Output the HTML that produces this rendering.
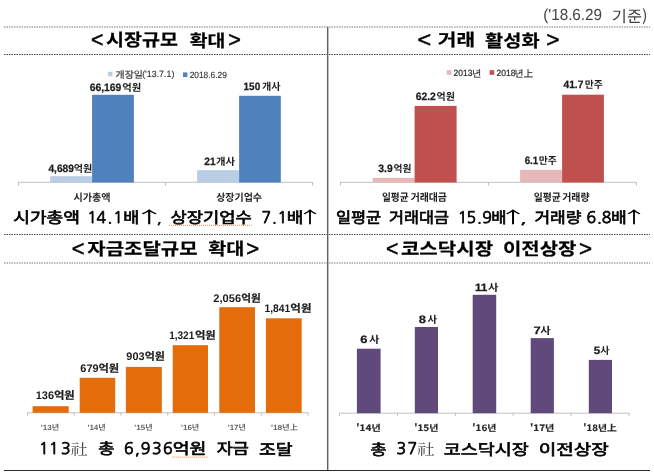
<!DOCTYPE html>
<html lang="ko"><head><meta charset="utf-8"><title>chart</title>
<style>
html,body{margin:0;padding:0;background:#fff;}
body{width:654px;height:476px;overflow:hidden;}
svg{display:block;font-family:"Liberation Sans", "Noto Sans CJK KR", "NanumGothic", sans-serif;}
text{white-space:pre;text-rendering:geometricPrecision;}
.n{font-family:"Noto Sans CJK KR", "NanumGothic", "Liberation Sans", sans-serif;}
.s{font-family:"Noto Serif CJK KR", "Noto Serif CJK SC", "NanumMyeongjo", "Liberation Serif", serif;}
.g{font-family:"NanumGothic", "Noto Sans CJK KR", "Liberation Sans", sans-serif;}

</style></head><body>
<svg width="654" height="476" viewBox="0 0 654 476">
<line x1="18" y1="182.3" x2="312.6" y2="182.3" stroke="#c0c0c0" stroke-width="1"/>
<line x1="18.5" y1="182" x2="18.5" y2="185.6" stroke="#c0c0c0" stroke-width="1"/>
<line x1="165.5" y1="182" x2="165.5" y2="185.6" stroke="#c0c0c0" stroke-width="1"/>
<line x1="312.5" y1="182" x2="312.5" y2="185.6" stroke="#c0c0c0" stroke-width="1"/>
<line x1="340" y1="182.3" x2="636" y2="182.3" stroke="#c0c0c0" stroke-width="1"/>
<line x1="340.5" y1="182" x2="340.5" y2="185.6" stroke="#c0c0c0" stroke-width="1"/>
<line x1="488.5" y1="182" x2="488.5" y2="185.6" stroke="#c0c0c0" stroke-width="1"/>
<line x1="636.5" y1="182" x2="636.5" y2="185.6" stroke="#c0c0c0" stroke-width="1"/>
<line x1="27.5" y1="412.8" x2="308" y2="412.8" stroke="#c0c0c0" stroke-width="1"/>
<line x1="27.5" y1="412.5" x2="27.5" y2="415.8" stroke="#c0c0c0" stroke-width="1"/>
<line x1="74.25" y1="412.5" x2="74.25" y2="415.8" stroke="#c0c0c0" stroke-width="1"/>
<line x1="121" y1="412.5" x2="121" y2="415.8" stroke="#c0c0c0" stroke-width="1"/>
<line x1="167.75" y1="412.5" x2="167.75" y2="415.8" stroke="#c0c0c0" stroke-width="1"/>
<line x1="214.5" y1="412.5" x2="214.5" y2="415.8" stroke="#c0c0c0" stroke-width="1"/>
<line x1="261.25" y1="412.5" x2="261.25" y2="415.8" stroke="#c0c0c0" stroke-width="1"/>
<line x1="308" y1="412.5" x2="308" y2="415.8" stroke="#c0c0c0" stroke-width="1"/>
<line x1="339.5" y1="413.2" x2="629" y2="413.2" stroke="#c0c0c0" stroke-width="1"/>
<line x1="339.5" y1="413" x2="339.5" y2="416.2" stroke="#c0c0c0" stroke-width="1"/>
<line x1="397.4" y1="413" x2="397.4" y2="416.2" stroke="#c0c0c0" stroke-width="1"/>
<line x1="455.3" y1="413" x2="455.3" y2="416.2" stroke="#c0c0c0" stroke-width="1"/>
<line x1="513.2" y1="413" x2="513.2" y2="416.2" stroke="#c0c0c0" stroke-width="1"/>
<line x1="571.1" y1="413" x2="571.1" y2="416.2" stroke="#c0c0c0" stroke-width="1"/>
<line x1="629" y1="413" x2="629" y2="416.2" stroke="#c0c0c0" stroke-width="1"/>
<line x1="4" y1="27" x2="650" y2="27" stroke="#777" stroke-width="1" stroke-dasharray="1.5 1"/>
<line x1="4" y1="54.5" x2="650" y2="54.5" stroke="#444" stroke-width="1" stroke-dasharray="1.5 1"/>
<line x1="4" y1="234.5" x2="650" y2="234.5" stroke="#444" stroke-width="1" stroke-dasharray="1.5 1"/>
<line x1="4" y1="263" x2="650" y2="263" stroke="#777" stroke-width="1" stroke-dasharray="1.5 1"/>
<line x1="327.7" y1="27" x2="327.7" y2="470" stroke="#606060" stroke-width="1.4"/>
<line x1="4" y1="470.5" x2="650" y2="470.5" stroke="#2a2a2a" stroke-width="1"/>
<rect x="108" y="71.8" width="4.4" height="4.6" fill="#b9cde5"/>
<rect x="183" y="72.4" width="4.4" height="4.6" fill="#4f81bd"/>
<rect x="50.2" y="176.2" width="41.9" height="6.3" fill="#b9cde5"/>
<rect x="92.1" y="94.8" width="41.8" height="87.7" fill="#4f81bd"/>
<rect x="197.1" y="170.2" width="42" height="12.3" fill="#b9cde5"/>
<rect x="239.1" y="95.8" width="41.7" height="86.7" fill="#4f81bd"/>
<rect x="446.7" y="70.2" width="4.7" height="4.6" fill="#e6b9b8"/>
<rect x="489.6" y="70.2" width="4.6" height="4.6" fill="#c0504d"/>
<rect x="372.6" y="177.8" width="42" height="4.7" fill="#e6b9b8"/>
<rect x="414.6" y="105.9" width="42" height="76.6" fill="#c0504d"/>
<rect x="520.1" y="169.8" width="42" height="12.7" fill="#e6b9b8"/>
<rect x="562.1" y="94.7" width="41.8" height="87.8" fill="#c0504d"/>
<rect x="32.6" y="406.2" width="36.1" height="6.6" fill="#e46c0a"/>
<rect x="79.7" y="377.8" width="35.5" height="35" fill="#e46c0a"/>
<rect x="125.9" y="366.9" width="35.9" height="45.9" fill="#e46c0a"/>
<rect x="172.7" y="345.2" width="35.3" height="67.6" fill="#e46c0a"/>
<rect x="219.3" y="307.2" width="35.7" height="105.6" fill="#e46c0a"/>
<rect x="265.9" y="318.3" width="35.8" height="94.5" fill="#e46c0a"/>
<rect x="356.9" y="348.7" width="23.7" height="64.5" fill="#604a7b"/>
<rect x="414.8" y="327" width="23.2" height="86.2" fill="#604a7b"/>
<rect x="472.7" y="294.8" width="23.5" height="118.4" fill="#604a7b"/>
<rect x="530.7" y="338.1" width="23.2" height="75.1" fill="#604a7b"/>
<rect x="588.8" y="359.9" width="23.2" height="53.3" fill="#604a7b"/>
<path d="M169 225.3 h82.5" stroke="#f29a62" stroke-width="1.2" stroke-dasharray="1 1" fill="none"/>
<path d="M172.3 457.2 h35" stroke="#f29a62" stroke-width="1.2" stroke-dasharray="1 1" fill="none"/>
<text><tspan font-size="16" font-weight="400" fill="#444" x="543.15" y="20.25" textLength="58.95" lengthAdjust="spacingAndGlyphs">('18.6.29</tspan> <tspan class="n" font-size="15.6" font-weight="400" fill="#444" x="611.79" y="22.25" textLength="35.79" lengthAdjust="spacingAndGlyphs">기준)</tspan></text>
<text><tspan font-size="22" font-weight="400" fill="#000" stroke="#000" stroke-width="0.5" x="91.11" y="47.25" textLength="12.37" lengthAdjust="spacingAndGlyphs">&lt;</tspan><tspan class="n" font-size="17.3" font-weight="700" fill="#000" stroke="#000" stroke-width="0.2" x="106.11" y="46.25" textLength="72.00" lengthAdjust="spacingAndGlyphs">시장규모</tspan> <tspan class="n" font-size="17.3" font-weight="700" fill="#000" stroke="#000" stroke-width="0.2" x="189.69" y="47.25" textLength="35.63" lengthAdjust="spacingAndGlyphs">확대</tspan><tspan font-size="22" font-weight="400" fill="#000" stroke="#000" stroke-width="0.5" x="228.23" y="47.25" textLength="12.64" lengthAdjust="spacingAndGlyphs">&gt;</tspan></text>
<text><tspan font-size="22" font-weight="400" fill="#000" stroke="#000" stroke-width="0.5" x="417.62" y="47.25" textLength="13.69" lengthAdjust="spacingAndGlyphs">&lt;</tspan> <tspan class="n" font-size="17.3" font-weight="700" fill="#000" stroke="#000" stroke-width="0.2" x="437.84" y="46.25" textLength="37.34" lengthAdjust="spacingAndGlyphs">거래</tspan> <tspan class="n" font-size="17.3" font-weight="700" fill="#000" stroke="#000" stroke-width="0.2" x="485.12" y="47.25" textLength="54.48" lengthAdjust="spacingAndGlyphs">활성화</tspan> <tspan font-size="22" font-weight="400" fill="#000" stroke="#000" stroke-width="0.5" x="546.18" y="47.25" textLength="13.23" lengthAdjust="spacingAndGlyphs">&gt;</tspan></text>
<text><tspan font-size="22" font-weight="400" fill="#000" stroke="#000" stroke-width="0.5" x="71.78" y="256.25" textLength="12.77" lengthAdjust="spacingAndGlyphs">&lt;</tspan><tspan class="n" font-size="17.3" font-weight="700" fill="#000" stroke="#000" stroke-width="0.2" x="87.28" y="255.25" textLength="110.28" lengthAdjust="spacingAndGlyphs">자금조달규모</tspan> <tspan class="n" font-size="17.3" font-weight="700" fill="#000" stroke="#000" stroke-width="0.2" x="208.29" y="255.25" textLength="36.17" lengthAdjust="spacingAndGlyphs">확대</tspan><tspan font-size="22" font-weight="400" fill="#000" stroke="#000" stroke-width="0.5" x="246.28" y="256.25" textLength="12.95" lengthAdjust="spacingAndGlyphs">&gt;</tspan></text>
<text><tspan font-size="22" font-weight="400" fill="#000" stroke="#000" stroke-width="0.5" x="386.11" y="256.25" textLength="12.37" lengthAdjust="spacingAndGlyphs">&lt;</tspan><tspan class="n" font-size="17.3" font-weight="700" fill="#000" stroke="#000" stroke-width="0.2" x="400.91" y="255.25" textLength="92.21" lengthAdjust="spacingAndGlyphs">코스닥시장</tspan> <tspan class="n" font-size="17.3" font-weight="700" fill="#000" stroke="#000" stroke-width="0.2" x="502.99" y="255.25" textLength="73.34" lengthAdjust="spacingAndGlyphs">이전상장</tspan><tspan font-size="22" font-weight="400" fill="#000" stroke="#000" stroke-width="0.5" x="578.99" y="256.25" textLength="13.09" lengthAdjust="spacingAndGlyphs">&gt;</tspan></text>
<text><tspan class="n" font-size="15.3" font-weight="400" fill="#000" stroke="#000" stroke-width="0.65" x="13.19" y="223.25" textLength="66.88" lengthAdjust="spacingAndGlyphs">시가총액</tspan> <tspan class="g" font-size="15.9" font-weight="400" fill="#000" stroke="#000" stroke-width="0.75" x="87.17 96.42 107.51 113.17" y="223.25">14.1</tspan><tspan class="n" font-size="15.3" font-weight="400" fill="#000" stroke="#000" stroke-width="0.65" x="123.24" y="223.25" textLength="16.02" lengthAdjust="spacingAndGlyphs">배</tspan><tspan class="n" font-size="16.4" font-weight="400" fill="#000" x="133.19" y="223.25" textLength="31.92" lengthAdjust="spacingAndGlyphs">↑</tspan><tspan class="g" font-size="15.3" font-weight="400" fill="#000" stroke="#000" stroke-width="0.3" x="156.27" y="223.25" textLength="6.04" lengthAdjust="spacingAndGlyphs">,</tspan> <tspan class="n" font-size="15.3" font-weight="400" fill="#000" stroke="#000" stroke-width="0.65" x="170.40" y="223.25" textLength="81.31" lengthAdjust="spacingAndGlyphs">상장기업수</tspan> <tspan class="g" font-size="15.9" font-weight="400" fill="#000" stroke="#000" stroke-width="0.75" x="261.48 272.12 277.48" y="223.25">7.1</tspan><tspan class="n" font-size="15.3" font-weight="400" fill="#000" stroke="#000" stroke-width="0.65" x="286.65" y="223.25" textLength="16.65" lengthAdjust="spacingAndGlyphs">배</tspan><tspan class="n" font-size="16.4" font-weight="400" fill="#000" x="296.32" y="223.25" textLength="27.51" lengthAdjust="spacingAndGlyphs">↑</tspan></text>
<text><tspan class="n" font-size="15.3" font-weight="400" fill="#000" stroke="#000" stroke-width="0.65" x="335.93" y="223.25" textLength="45.19" lengthAdjust="spacingAndGlyphs">일평균</tspan> <tspan class="n" font-size="15.3" font-weight="400" fill="#000" stroke="#000" stroke-width="0.65" x="389.12" y="223.25" textLength="59.83" lengthAdjust="spacingAndGlyphs">거래대금</tspan> <tspan class="g" font-size="15.9" font-weight="400" fill="#000" stroke="#000" stroke-width="0.75" x="457.87 466.38 477.12 482.24" y="223.25">15.9</tspan><tspan class="n" font-size="15.3" font-weight="400" fill="#000" stroke="#000" stroke-width="0.65" x="491.23" y="223.25" textLength="15.23" lengthAdjust="spacingAndGlyphs">배</tspan><tspan class="n" font-size="16.4" font-weight="400" fill="#000" x="498.15" y="223.25" textLength="29.54" lengthAdjust="spacingAndGlyphs">↑</tspan><tspan class="g" font-size="15.3" font-weight="400" fill="#000" stroke="#000" stroke-width="0.3" x="519.77" y="223.25" textLength="7.41" lengthAdjust="spacingAndGlyphs">,</tspan> <tspan class="n" font-size="15.3" font-weight="400" fill="#000" stroke="#000" stroke-width="0.65" x="534.42" y="223.25" textLength="46.96" lengthAdjust="spacingAndGlyphs">거래량</tspan> <tspan class="g" font-size="15.9" font-weight="400" fill="#000" stroke="#000" stroke-width="0.75" x="586.39 596.88 601.84" y="223.25">6.8</tspan><tspan class="n" font-size="15.3" font-weight="400" fill="#000" stroke="#000" stroke-width="0.65" x="610.94" y="223.25" textLength="15.67" lengthAdjust="spacingAndGlyphs">배</tspan><tspan class="n" font-size="16.4" font-weight="400" fill="#000" x="620.32" y="223.25" textLength="27.51" lengthAdjust="spacingAndGlyphs">↑</tspan></text>
<text><tspan class="g" font-size="15.9" font-weight="400" fill="#000" stroke="#000" stroke-width="0.75" x="38.97 48.97 61.12" y="454.25">113</tspan><tspan class="s" font-size="15.3" font-weight="400" fill="#444" x="70.70" y="455.25" textLength="17.11" lengthAdjust="spacingAndGlyphs">社</tspan> <tspan class="n" font-size="15.3" font-weight="400" fill="#000" stroke="#000" stroke-width="0.65" x="98.23" y="454.25" textLength="16.16" lengthAdjust="spacingAndGlyphs">총</tspan> <tspan class="g" font-size="15.9" font-weight="400" fill="#000" stroke="#000" stroke-width="0.75" x="123.95 134.95 140.84 152.00 162.93" y="454.25">6,936</tspan><tspan class="n" font-size="15.3" font-weight="400" fill="#000" stroke="#000" stroke-width="0.65" x="172.81" y="454.25" textLength="33.65" lengthAdjust="spacingAndGlyphs">억원</tspan> <tspan class="n" font-size="15.3" font-weight="400" fill="#000" stroke="#000" stroke-width="0.65" x="216.70" y="454.25" textLength="32.17" lengthAdjust="spacingAndGlyphs">자금</tspan> <tspan class="n" font-size="15.3" font-weight="400" fill="#000" stroke="#000" stroke-width="0.65" x="259.07" y="455.25" textLength="33.61" lengthAdjust="spacingAndGlyphs">조달</tspan></text>
<text><tspan class="n" font-size="15.3" font-weight="400" fill="#000" stroke="#000" stroke-width="0.65" x="370.53" y="455.25" textLength="16.11" lengthAdjust="spacingAndGlyphs">총</tspan> <tspan class="g" font-size="15.9" font-weight="400" fill="#000" stroke="#000" stroke-width="0.75" x="396.45 407.48" y="454.25">37</tspan><tspan class="s" font-size="15.3" font-weight="400" fill="#444" x="417.28" y="455.25" textLength="17.52" lengthAdjust="spacingAndGlyphs">社</tspan> <tspan class="n" font-size="15.3" font-weight="400" fill="#000" stroke="#000" stroke-width="0.65" x="443.71" y="455.25" textLength="84.97" lengthAdjust="spacingAndGlyphs">코스닥시장</tspan> <tspan class="n" font-size="15.3" font-weight="400" fill="#000" stroke="#000" stroke-width="0.65" x="538.67" y="455.25" textLength="70.00" lengthAdjust="spacingAndGlyphs">이전상장</tspan></text>
<text><tspan class="n" font-size="9.3" font-weight="400" fill="#3a3a3a" stroke="#3a3a3a" stroke-width="0.2" x="115.56" y="78.25" textLength="27.27" lengthAdjust="spacingAndGlyphs">개장일</tspan><tspan font-size="9" font-weight="400" fill="#333" stroke="#333" stroke-width="0.15" x="142.16" y="77.25" textLength="32.20" lengthAdjust="spacingAndGlyphs">('13.7.1)</tspan></text>
<text font-size="9" font-weight="400" fill="#333" stroke="#333" stroke-width="0.15" x="189.65" y="78.25" textLength="37.20" lengthAdjust="spacingAndGlyphs">2018.6.29</text>
<text><tspan font-size="10.7" font-weight="700" fill="#1c1c1c" stroke="#1c1c1c" stroke-width="0.25" x="89.63" y="91.25" textLength="31.73" lengthAdjust="spacingAndGlyphs">66,169</tspan><tspan class="n" font-size="10" font-weight="700" fill="#1c1c1c" x="122.24" y="91.25" textLength="19.01" lengthAdjust="spacingAndGlyphs">억원</tspan></text>
<text><tspan font-size="10.7" font-weight="700" fill="#1c1c1c" stroke="#1c1c1c" stroke-width="0.25" x="243.55" y="90.25" textLength="16.65" lengthAdjust="spacingAndGlyphs">150</tspan> <tspan class="n" font-size="10" font-weight="700" fill="#1c1c1c" x="261.96" y="90.25" textLength="18.58" lengthAdjust="spacingAndGlyphs">개사</tspan></text>
<text><tspan font-size="10.7" font-weight="700" fill="#1c1c1c" stroke="#1c1c1c" stroke-width="0.25" x="48.39" y="172.25" textLength="25.56" lengthAdjust="spacingAndGlyphs">4,689</tspan><tspan class="n" font-size="10" font-weight="700" fill="#1c1c1c" x="73.81" y="172.25" textLength="18.48" lengthAdjust="spacingAndGlyphs">억원</tspan></text>
<text><tspan font-size="10.7" font-weight="700" fill="#1c1c1c" stroke="#1c1c1c" stroke-width="0.25" x="204.37" y="165.25" textLength="11.34" lengthAdjust="spacingAndGlyphs">21</tspan><tspan class="n" font-size="10" font-weight="700" fill="#1c1c1c" x="215.93" y="165.25" textLength="19.05" lengthAdjust="spacingAndGlyphs">개사</tspan></text>
<text class="n" font-size="10.2" font-weight="700" fill="#2a2a2a" x="73.46" y="201.25" textLength="37.12" lengthAdjust="spacingAndGlyphs">시가총액</text>
<text class="n" font-size="10.2" font-weight="700" fill="#2a2a2a" x="216.15" y="201.25" textLength="45.91" lengthAdjust="spacingAndGlyphs">상장기업수</text>
<text><tspan font-size="9" font-weight="400" fill="#2a2a2a" stroke="#2a2a2a" stroke-width="0.2" x="453.52" y="76.25" textLength="18.92" lengthAdjust="spacingAndGlyphs">2013</tspan><tspan class="n" font-size="9.3" font-weight="400" fill="#3a3a3a" stroke="#3a3a3a" stroke-width="0.2" x="472.02" y="77.25" textLength="9.28" lengthAdjust="spacingAndGlyphs">년</tspan></text>
<text><tspan font-size="9" font-weight="400" fill="#2a2a2a" stroke="#2a2a2a" stroke-width="0.2" x="496.39" y="76.25" textLength="19.01" lengthAdjust="spacingAndGlyphs">2018</tspan><tspan class="n" font-size="9.3" font-weight="400" fill="#3a3a3a" stroke="#3a3a3a" stroke-width="0.2" x="514.48" y="77.25" textLength="18.68" lengthAdjust="spacingAndGlyphs">년上</tspan></text>
<text><tspan font-size="10.7" font-weight="700" fill="#1c1c1c" stroke="#1c1c1c" stroke-width="0.25" x="415.63" y="100.25" textLength="20.24" lengthAdjust="spacingAndGlyphs">62.2</tspan><tspan class="n" font-size="10" font-weight="700" fill="#1c1c1c" x="436.57" y="100.25" textLength="18.36" lengthAdjust="spacingAndGlyphs">억원</tspan></text>
<text><tspan font-size="10.7" font-weight="700" fill="#1c1c1c" stroke="#1c1c1c" stroke-width="0.25" x="563.45" y="88.25" textLength="19.97" lengthAdjust="spacingAndGlyphs">41.7</tspan><tspan class="n" font-size="10" font-weight="700" fill="#1c1c1c" x="584.80" y="88.25" textLength="17.94" lengthAdjust="spacingAndGlyphs">만주</tspan></text>
<text><tspan font-size="10.7" font-weight="700" fill="#1c1c1c" stroke="#1c1c1c" stroke-width="0.25" x="378.36" y="172.25" textLength="14.41" lengthAdjust="spacingAndGlyphs">3.9</tspan><tspan class="n" font-size="10" font-weight="700" fill="#1c1c1c" x="393.46" y="172.25" textLength="17.90" lengthAdjust="spacingAndGlyphs">억원</tspan></text>
<text><tspan font-size="10.7" font-weight="700" fill="#1c1c1c" stroke="#1c1c1c" stroke-width="0.25" x="524.67" y="164.25" textLength="13.66" lengthAdjust="spacingAndGlyphs">6.1</tspan><tspan class="n" font-size="10" font-weight="700" fill="#1c1c1c" x="538.81" y="164.25" textLength="18.01" lengthAdjust="spacingAndGlyphs">만주</tspan></text>
<text><tspan class="n" font-size="10.6" font-weight="700" fill="#1a1a1a" x="381.91" y="201.25" textLength="26.70" lengthAdjust="spacingAndGlyphs">일평균</tspan> <tspan class="n" font-size="10.6" font-weight="700" fill="#1a1a1a" x="410.64" y="201.25" textLength="36.33" lengthAdjust="spacingAndGlyphs">거래대금</tspan></text>
<text><tspan class="n" font-size="10.6" font-weight="700" fill="#1a1a1a" x="533.66" y="201.25" textLength="27.10" lengthAdjust="spacingAndGlyphs">일평균</tspan> <tspan class="n" font-size="10.6" font-weight="700" fill="#1a1a1a" x="562.20" y="201.25" textLength="27.41" lengthAdjust="spacingAndGlyphs">거래량</tspan></text>
<text><tspan font-size="11" font-weight="700" fill="#1c1c1c" x="35.74" y="399.25" textLength="18.28" lengthAdjust="spacingAndGlyphs">136</tspan><tspan class="n" font-size="10.7" font-weight="700" fill="#1c1c1c" stroke="#1c1c1c" stroke-width="0.2" x="53.91" y="399.25" textLength="20.87" lengthAdjust="spacingAndGlyphs">억원</tspan></text>
<text><tspan font-size="11" font-weight="700" fill="#1c1c1c" x="80.29" y="372.25" textLength="18.33" lengthAdjust="spacingAndGlyphs">679</tspan><tspan class="n" font-size="10.7" font-weight="700" fill="#1c1c1c" stroke="#1c1c1c" stroke-width="0.2" x="98.52" y="372.25" textLength="20.66" lengthAdjust="spacingAndGlyphs">억원</tspan></text>
<text><tspan font-size="11" font-weight="700" fill="#1c1c1c" x="126.33" y="360.25" textLength="18.17" lengthAdjust="spacingAndGlyphs">903</tspan><tspan class="n" font-size="10.7" font-weight="700" fill="#1c1c1c" stroke="#1c1c1c" stroke-width="0.2" x="144.66" y="360.25" textLength="20.21" lengthAdjust="spacingAndGlyphs">억원</tspan></text>
<text><tspan font-size="11" font-weight="700" fill="#1c1c1c" x="169.14" y="339.25" textLength="25.11" lengthAdjust="spacingAndGlyphs">1,321</tspan><tspan class="n" font-size="10.7" font-weight="700" fill="#1c1c1c" stroke="#1c1c1c" stroke-width="0.2" x="194.90" y="339.25" textLength="20.86" lengthAdjust="spacingAndGlyphs">억원</tspan></text>
<text><tspan font-size="11" font-weight="700" fill="#1c1c1c" x="213.39" y="302.25" textLength="27.73" lengthAdjust="spacingAndGlyphs">2,056</tspan><tspan class="n" font-size="10.7" font-weight="700" fill="#1c1c1c" stroke="#1c1c1c" stroke-width="0.2" x="241.33" y="302.25" textLength="19.49" lengthAdjust="spacingAndGlyphs">억원</tspan></text>
<text><tspan font-size="11" font-weight="700" fill="#1c1c1c" x="264.47" y="312.25" textLength="25.79" lengthAdjust="spacingAndGlyphs">1,841</tspan><tspan class="n" font-size="10.7" font-weight="700" fill="#1c1c1c" stroke="#1c1c1c" stroke-width="0.2" x="290.34" y="312.25" textLength="21.11" lengthAdjust="spacingAndGlyphs">억원</tspan></text>
<text font-size="7.5" font-weight="700" fill="#666" x="40.72" y="430.25" textLength="18.39" lengthAdjust="spacingAndGlyphs">'13년</text>
<text font-size="7.5" font-weight="700" fill="#666" x="87.47" y="430.25" textLength="18.32" lengthAdjust="spacingAndGlyphs">'14년</text>
<text font-size="7.5" font-weight="700" fill="#666" x="134.28" y="430.25" textLength="18.33" lengthAdjust="spacingAndGlyphs">'15년</text>
<text font-size="7.5" font-weight="700" fill="#666" x="181.05" y="430.25" textLength="18.15" lengthAdjust="spacingAndGlyphs">'16년</text>
<text font-size="7.5" font-weight="700" fill="#666" x="227.77" y="430.25" textLength="18.13" lengthAdjust="spacingAndGlyphs">'17년</text>
<text font-size="7.5" font-weight="700" fill="#666" x="270.97" y="430.25" textLength="27.02" lengthAdjust="spacingAndGlyphs">'18년上</text>
<text><tspan font-size="10.7" font-weight="700" fill="#1c1c1c" stroke="#1c1c1c" stroke-width="0.25" x="360.25" y="343.25" textLength="7.22" lengthAdjust="spacingAndGlyphs">6</tspan> <tspan class="n" font-size="10" font-weight="700" fill="#1c1c1c" x="369.00" y="343.25" textLength="10.42" lengthAdjust="spacingAndGlyphs">사</tspan></text>
<text><tspan font-size="10.7" font-weight="700" fill="#1c1c1c" stroke="#1c1c1c" stroke-width="0.25" x="418.66" y="323.25" textLength="7.22" lengthAdjust="spacingAndGlyphs">8</tspan> <tspan class="n" font-size="10" font-weight="700" fill="#1c1c1c" x="427.61" y="323.25" textLength="9.54" lengthAdjust="spacingAndGlyphs">사</tspan></text>
<text><tspan font-size="10.7" font-weight="700" fill="#1c1c1c" stroke="#1c1c1c" stroke-width="0.25" x="474.92" y="291.25" textLength="12.45" lengthAdjust="spacingAndGlyphs">11</tspan><tspan class="n" font-size="10" font-weight="700" fill="#1c1c1c" x="487.98" y="291.25" textLength="10.46" lengthAdjust="spacingAndGlyphs">사</tspan></text>
<text><tspan font-size="10.7" font-weight="700" fill="#1c1c1c" stroke="#1c1c1c" stroke-width="0.25" x="533.56" y="334.25" textLength="7.20" lengthAdjust="spacingAndGlyphs">7</tspan><tspan class="n" font-size="10" font-weight="700" fill="#1c1c1c" x="540.22" y="334.25" textLength="10.44" lengthAdjust="spacingAndGlyphs">사</tspan></text>
<text><tspan font-size="10.7" font-weight="700" fill="#1c1c1c" stroke="#1c1c1c" stroke-width="0.25" x="593.66" y="354.25" textLength="6.48" lengthAdjust="spacingAndGlyphs">5</tspan><tspan class="n" font-size="10" font-weight="700" fill="#1c1c1c" x="600.31" y="354.25" textLength="9.25" lengthAdjust="spacingAndGlyphs">사</tspan></text>
<text class="n" font-size="8.7" font-weight="700" fill="#262626" stroke="#262626" stroke-width="0.15" x="356.36" y="431.25" textLength="24.30" lengthAdjust="spacingAndGlyphs">'14년</text>
<text class="n" font-size="8.7" font-weight="700" fill="#262626" stroke="#262626" stroke-width="0.15" x="414.15" y="431.25" textLength="24.29" lengthAdjust="spacingAndGlyphs">'15년</text>
<text class="n" font-size="8.7" font-weight="700" fill="#262626" stroke="#262626" stroke-width="0.15" x="472.33" y="431.25" textLength="24.00" lengthAdjust="spacingAndGlyphs">'16년</text>
<text class="n" font-size="8.7" font-weight="700" fill="#262626" stroke="#262626" stroke-width="0.15" x="529.93" y="431.25" textLength="24.39" lengthAdjust="spacingAndGlyphs">'17년</text>
<text class="n" font-size="8.7" font-weight="700" fill="#262626" stroke="#262626" stroke-width="0.15" x="583.24" y="431.25" textLength="33.48" lengthAdjust="spacingAndGlyphs">'18년上</text>
</svg>
</body></html>
